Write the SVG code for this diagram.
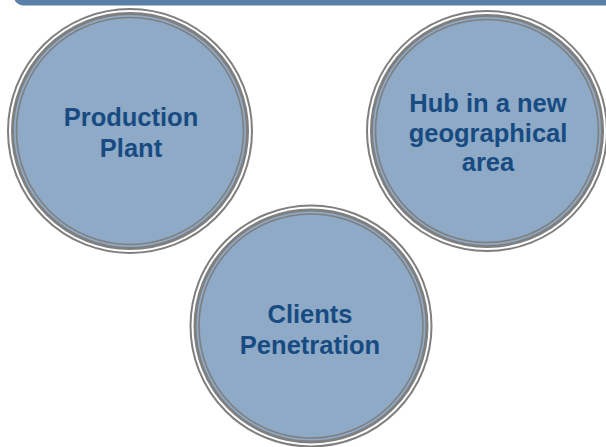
<svg xmlns="http://www.w3.org/2000/svg" width="606" height="447" viewBox="0 0 606 447">
  <style>
    .ring-outer { fill: #ffffff; stroke: #7f7f7f; stroke-width: 2; }
    .ring-mid { fill: #8eaac6; stroke: #7f7f7f; stroke-width: 3; }
    .ring-inner { fill: none; stroke: #7f7f7f; stroke-width: 1.6; }
    .label { font-family: "Liberation Sans", Arial, sans-serif; font-weight: bold; font-size: 25.5px; fill: #174b82; text-anchor: middle; }
  </style>
  <rect width="606" height="447" fill="#ffffff"/>
  <!-- header band -->
  <rect x="14" y="-20" width="620" height="25.5" rx="9" fill="#5b80a8"/>

  <g id="production-plant">
    <circle class="ring-outer" cx="130" cy="131" r="122"/>
    <circle class="ring-mid" cx="130" cy="131" r="117.5"/>
    <circle class="ring-inner" cx="130" cy="131" r="113.5"/>
    <text class="label" x="131" y="126">Production</text>
    <text class="label" x="131" y="157">Plant</text>
  </g>

  <g id="hub">
    <circle class="ring-outer" cx="487" cy="131" r="120"/>
    <circle class="ring-mid" cx="487" cy="131" r="115.5"/>
    <circle class="ring-inner" cx="487" cy="131" r="111.5"/>
    <text class="label" x="488" y="112">Hub in a new</text>
    <text class="label" x="488" y="142">geographical</text>
    <text class="label" x="488" y="171">area</text>
  </g>

  <g id="clients-penetration">
    <circle class="ring-outer" cx="311" cy="326" r="120.5"/>
    <circle class="ring-mid" cx="311" cy="326" r="116"/>
    <circle class="ring-inner" cx="311" cy="326" r="112"/>
    <text class="label" x="310" y="323">Clients</text>
    <text class="label" x="310" y="354">Penetration</text>
  </g>

  <g id="connectors"/>
</svg>
